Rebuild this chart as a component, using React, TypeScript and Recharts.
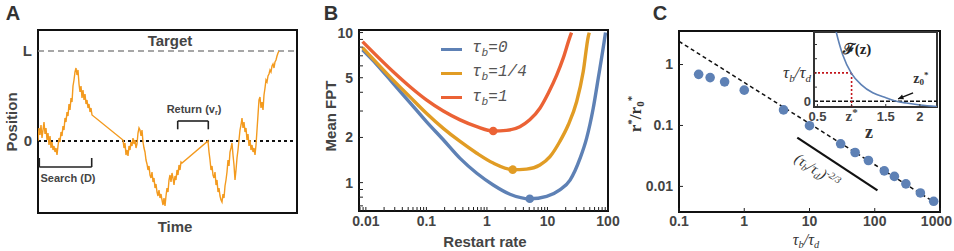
import React from 'react'
import { ComposedChart, Line, Scatter, XAxis, YAxis, ReferenceLine, ReferenceArea, Legend } from 'recharts'

const SANS = '"Liberation Sans", Arial, sans-serif'
const SERIF = '"Liberation Serif", "Times New Roman", serif'
const MONO = '"Liberation Mono", monospace'
const INK = '#444'
const FRAME = '#111'

// ---------- A: one trajectory of search with returns ----------
const TARGET = 90
const walkT = [
  0, 1, 2, 3, 4, 5, 6, 7, 8, 9, 10, 11, 12, 13, 14, 15, 16, 17, 18, 19, 20, 21, 22, 23, 24, 25, 26, 27, 28, 29,
  30, 31, 32, 33, 34, 35, 36, 37, 38, 39, 40, 41, 42, 43, 44, 45, 46, 47, 48, 49, 50, 51, 52, 53, 54,
  85, 86, 87, 88, 89, 90, 91, 92, 93, 94, 95, 96, 97, 98, 99, 100, 101, 102, 103, 104, 105, 106, 107, 108, 109,
  110, 111, 112, 113, 114, 115, 116, 117, 118, 119, 120, 121, 122, 123, 124, 125, 126, 127, 128, 129, 130, 131,
  132, 133, 134, 135, 136, 137, 138, 139, 140, 141, 142, 143, 144,
  170, 171, 172, 173, 174, 175, 176, 177, 178, 179, 180, 181, 182, 183, 184, 185, 186, 187, 188, 189, 190, 191,
  192, 193, 194, 195, 196, 197, 198, 199, 200, 201, 202, 203, 204, 205, 206, 207, 208, 209, 210, 211, 212, 213,
  214, 215, 216, 217, 218, 219, 220, 221, 222, 223, 224, 225, 226, 227, 228, 229, 230, 231, 232, 233, 234, 235,
  236, 237, 238, 239, 240, 241,
]
const walkX = [
  0, 13, 6, 16, 3, 11, 19, 7, 13, 1, 8, -4, 5, -7, -1, -9, -5, -11, -7, -14, -5, 3, -1, 9, 5, 15, 11, 23, 19, 29,
  25, 37, 31, 43, 39, 55, 61, 69, 73, 66, 71, 57, 49, 55, 43, 51, 41, 47, 37, 41, 33, 37, 29, 33, 26,
  1, -7, -2, -14, -9, -15, -5, -9, -1, -5, 3, -3, 1, -7, -3, 8, 13, 11, 5, 11, -1, -7, -11, -19, -23,
  -29, -25, -34, -37, -31, -41, -37, -47, -43, -51, -55, -49, -57, -53, -59, -64, -57, -65, -55, -47, -51, -39,
  -34, -41, -32, -37, -44, -35, -39, -29, -34, -24, -29, -21, -22,
  0, -11, -19, -29, -25, -34, -37, -31, -44, -39, -51, -47, -55, -59, -61, -53, -57, -45, -39, -31, -19, -25,
  -11, -7, -2, -14, -24, -39, -29, -17, -9, 1, 11, 16, 23, 13, 19, 9, 13, 1, 7, -5, 1, -9,
  -4, -11, -7, -14, -4, 11, 26, 41, 44, 33, 39, 31, 46, 53, 61, 59, 65, 67, 71, 69, 75, 77,
  73, 79, 81, 85, 88, 90,
]
const walk = walkT.map((t, i) => ({ x: t, y: walkX[i] }))
const posTicks = [0, TARGET]
const A_T = [0, 259]
const A_X = [-72, 111]

// brackets drawn under / above the trajectory (time span, level, tip level)
const searchBracket = { t0: 1.3, t1: 53.7, y: -26, tip: -17 }
const returnBracket = { t0: 139.7, t1: 170.3, y: 20, tip: 11.7 }

// ---------- B: mean FPT vs restart rate ----------
const SERIES_B = [
  { name: 'τ_b=0', color: '#5E81B5' },
  { name: 'τ_b=1/4', color: '#E19C24' },
  { name: 'τ_b=1', color: '#EB6235' },
]
const rate0 = [0.0088, 0.015, 0.028, 0.053, 0.1, 0.19, 0.36, 0.68, 1.27, 2.4, 5.1, 9.7, 16, 23.6, 28.5, 34.5, 44.4, 57, 69, 89, 91]
const fpt0 = [7.67, 6.15, 4.6, 3.43, 2.55, 1.93, 1.45, 1.155, 0.965, 0.837, 0.78, 0.81, 0.894, 1.04, 1.2, 1.45, 1.98, 3.13, 4.96, 9.4, 10]
const rateQ = [0.0088, 0.028, 0.053, 0.1, 0.19, 0.36, 0.68, 1.27, 2.66, 4.5, 7.5, 11, 16, 22, 30.4, 39, 47.2, 49]
const fptQ = [7.94, 4.84, 3.74, 2.9, 2.3, 1.88, 1.57, 1.35, 1.22, 1.23, 1.31, 1.49, 1.88, 2.42, 3.47, 5.5, 9.4, 10]
const rate1 = [0.0088, 0.028, 0.053, 0.1, 0.19, 0.36, 0.68, 1.27, 2.1, 3.5, 5.1, 7.5, 10.3, 14.2, 18.2, 23.6, 25]
const fpt1 = [8.7, 5.5, 4.37, 3.56, 3.0, 2.62, 2.36, 2.21, 2.23, 2.36, 2.62, 3.13, 3.94, 5.2, 6.75, 9.4, 10]
const optRate = [5.1, 2.66, 1.27]
const optFpt = [0.78, 1.22, 2.21]
const rateMajor = [0.01, 0.1, 1, 10, 100]
const fptMajor = [1, 2, 5, 10]
const fptMinor = [0.7, 0.8, 0.9, 3, 4, 6, 7, 8, 9]
const B_RATE = [0.0077, 100]
const B_FPT = [0.647, 10.4]

const curvesB = [
  rate0.map((x, i) => ({ x, y: fpt0[i] })),
  rateQ.map((x, i) => ({ x, y: fptQ[i] })),
  rate1.map((x, i) => ({ x, y: fpt1[i] })),
]
const rateTicks = [0.008, 0.009, ...rateMajor.flatMap((d) => (d === 100 ? [d] : [1, 2, 3, 4, 5, 6, 7, 8, 9].map((k) => d * k)))]

// ---------- C: optimal rate vs tau_b / tau_d ----------
const ratio = [0.2, 0.3, 0.5, 1, 4, 10, 30, 50, 80, 140, 200, 300, 500, 800]
const rStar = [0.69, 0.61, 0.52, 0.38, 0.18, 0.099, 0.05, 0.036, 0.0266, 0.018, 0.0146, 0.011, 0.0078, 0.0057]
const theoryX = [0.1, 1000]
const theoryY = [2.4, 0.0048]
const guideX = [6.5, 110]
const guideY = [0.063, 0.0086]
const ratioTicks = [0.1, 1, 10, 100, 1000]
const rTicks = [0.01, 0.1, 1]
const C_X = [0.1, 1000]
const C_Y = [0.0038, 3.55]

// inset: F(z)
const zVals = [0.74, 0.775, 0.87, 1.0, 1.14, 1.31, 1.51, 1.63, 1.8, 2.0, 2.25]
const fVals = [2.8, 2.44, 1.64, 0.975, 0.59, 0.3, 0.12, 0.02, -0.06, -0.13, -0.18]
const Z_STAR = 1
const LEVEL = 1
const zTicks = [0.5, 1, 1.5, 2]
const fTicks = [0, 0.5, 1, 1.5, 2]
const IN_Z = [0.45, 2.25]
const IN_F = [-0.2, 2.44]

const pts = (xs: number[], ys: number[]) => xs.map((x, i) => ({ x, y: ys[i] }))

const tickFont = { fill: INK, fontSize: 14, fontWeight: 'bold', fontFamily: SANS }

function Frame({ xs, ys, color = FRAME }: any) {
  return (
    <ReferenceArea x1={xs[0]} x2={xs[1]} y1={ys[0]} y2={ys[1]} ifOverflow="visible"
      fill="none" fillOpacity={0} stroke={color} strokeWidth={2} />
  )
}

function Txt({ x, y, children, size = 15, weight = 'bold', family = SANS, color = INK, rotate = 0, italic = false }: any) {
  return (
    <div
      style={{
        position: 'absolute', left: x, top: y, transform: `translate(-50%, -50%) rotate(${rotate}deg)`,
        fontSize: size, fontWeight: weight, fontFamily: family, color, fontStyle: italic ? 'italic' : 'normal',
        whiteSpace: 'nowrap', lineHeight: 1,
      }}
    >
      {children}
    </div>
  )
}
const Sub = ({ children }: any) => <span style={{ fontSize: '0.65em', verticalAlign: '-0.3em' }}>{children}</span>
const Sup = ({ children }: any) => <span style={{ fontSize: '0.65em', verticalAlign: '0.55em' }}>{children}</span>

function Arrow(p: any) {
  const { x1, y1, x2, y2 } = p || {}
  if (![x1, y1, x2, y2].every((v) => typeof v === 'number')) return <g />
  const a = Math.atan2(y2 - y1, x2 - x1)
  const h = 6
  const head = [
    [x2, y2],
    [x2 - h * Math.cos(a - 0.45), y2 - h * Math.sin(a - 0.45)],
    [x2 - h * Math.cos(a + 0.45), y2 - h * Math.sin(a + 0.45)],
  ]
  return (
    <g>
      <line x1={x1} y1={y1} x2={x2} y2={y2} stroke="#111" strokeWidth={1.4} />
      <polygon points={head.map((q) => q.join(',')).join(' ')} fill="#111" />
    </g>
  )
}

function LegendB({ payload }: any) {
  const order = SERIES_B.map((s) => s.name)
  const items = (payload || [])
    .filter((e: any) => e && order.includes(String(e.value)))
    .sort((a: any, b: any) => order.indexOf(a.value) - order.indexOf(b.value))
  return (
    <div>
      {items.map((e: any) => {
        const [head, tail = ''] = String(e.value).split('_')
        return (
          <div key={e.value} style={{ display: 'flex', alignItems: 'center', height: 24.2 }}>
            <div style={{ width: 21, height: 3, background: e.color, marginRight: 10 }} />
            <span style={{ fontFamily: MONO, fontStyle: 'italic', fontSize: 16, color: '#555' }}>
              {head}
              <span style={{ fontSize: '0.7em', verticalAlign: '-0.35em' }}>{tail.slice(0, 1)}</span>
              {tail.slice(1)}
            </span>
          </div>
        )
      })}
    </div>
  )
}

// x ticks of C: the last label is pulled inside the picture
function RatioTick({ x, y, payload }: any) {
  const last = payload.value === ratioTicks[ratioTicks.length - 1]
  return (
    <text x={last ? x + 12 : x} y={y} dy="0.71em" textAnchor={last ? 'end' : 'middle'} {...tickFont}>
      {String(payload.value)}
    </text>
  )
}

function PanelA() {
  const seg = (x0: number, y0: number, x1: number, y1: number) => [{ x: x0, y: y0 }, { x: x1, y: y1 }]
  const br = (b: typeof searchBracket) => [
    seg(b.t0, b.y, b.t1, b.y),
    seg(b.t0, b.y, b.t0, b.tip),
    seg(b.t1, b.y, b.t1, b.tip),
  ]
  return (
    <div style={{ position: 'absolute', left: 0, top: 0 }}>
      <ComposedChart width={320} height={251} margin={{ top: 30, right: 23, bottom: 38, left: 0 }}>
        <XAxis type="number" dataKey="x" domain={A_T} hide allowDataOverflow />
        <YAxis
          type="number" domain={A_X} ticks={posTicks} width={38} allowDataOverflow
          tickFormatter={(v: number) => (v === TARGET ? 'L' : '0')}
          axisLine={false} tickLine={false} tickSize={0} tickMargin={6}
          tick={{ ...tickFont, fontSize: 15 }}
        />
        <ReferenceLine y={TARGET} stroke="#8a8a8a" strokeWidth={1.6} strokeDasharray="6 4" />
        <ReferenceLine y={0} stroke="#111" strokeWidth={2} strokeDasharray="3 3" />
        {[...br(searchBracket), ...br(returnBracket)].map((s, i) => (
          <ReferenceLine key={i} segment={s} stroke="#222" strokeWidth={1.6} />
        ))}
        <Line data={walk} dataKey="y" type="linear" stroke="#F39A1E" strokeWidth={1.4} dot={false} isAnimationActive={false} />
        {Frame({ xs: A_T, ys: A_X })}
      </ComposedChart>
    </div>
  )
}

function PanelB() {
  return (
    <div style={{ position: 'absolute', left: 310, top: 0 }}>
      <ComposedChart width={320} height={251} margin={{ top: 30, right: 22, bottom: 0, left: 0 }}>
        <XAxis
          type="number" dataKey="x" scale="log" domain={B_RATE} allowDataOverflow height={40}
          ticks={rateTicks} interval={0} axisLine={false}
          tickFormatter={(v: number) => (rateMajor.includes(v) ? String(v) : '')}
          tickSize={-4} tickMargin={9} tickLine={{ stroke: '#222' }} tick={tickFont}
        />
        <YAxis
          type="number" dataKey="y" scale="log" domain={B_FPT} allowDataOverflow width={49}
          ticks={[...fptMajor, ...fptMinor].sort((a, b) => a - b)} interval={0} axisLine={false}
          tickFormatter={(v: number) => (fptMajor.includes(v) ? String(v) : '')}
          tickSize={-4} tickMargin={10} tickLine={{ stroke: '#222' }} tick={tickFont}
        />
        {SERIES_B.map((s, i) => (
          <Line key={s.name} name={s.name} data={curvesB[i]} dataKey="y" type="monotone" stroke={s.color}
            strokeWidth={3.4} dot={false} isAnimationActive={false} />
        ))}
        {SERIES_B.map((s, i) => (
          <Scatter key={'o' + i} data={[{ x: optRate[i], y: optFpt[i] }]} dataKey="y" fill={s.color}
            legendType="none" isAnimationActive={false}
            shape={(p: any) => <circle cx={p.cx} cy={p.cy} r={4.3} fill={s.color} />} />
        ))}
        {Frame({ xs: B_RATE, ys: B_FPT })}
        <Legend
          layout="vertical" align="center" verticalAlign="middle"
          wrapperStyle={{ position: 'absolute', left: 131, top: 37, width: 'auto', height: 'auto' }}
          content={<LegendB />}
        />
      </ComposedChart>
    </div>
  )
}

function InsetXTick({ x, y, payload }: any) {
  if (payload.value === Z_STAR) {
    return (
      <text x={x} y={y + 10} textAnchor="middle" fontFamily={SERIF} fontWeight="bold" fontSize={15} fill={INK}>
        z<tspan dy={-5} fontSize={11}>*</tspan>
      </text>
    )
  }
  return (
    <text x={x} y={y + 10} textAnchor="middle" fontFamily={SANS} fontWeight="bold" fontSize={13} fill={INK}>
      {payload.value}
    </text>
  )
}

function InsetYTick({ x, y, payload }: any) {
  if (payload.value === LEVEL) {
    return (
      <text x={x} y={y + 5} textAnchor="end" fontFamily={SERIF} fontStyle="italic" fontSize={17} fill="#333">
        τ<tspan dy={4} fontSize={11}>b</tspan><tspan dy={-4}>/τ</tspan><tspan dy={4} fontSize={11}>d</tspan>
      </text>
    )
  }
  if (payload.value !== 0) return <g />
  return (
    <text x={x} y={y + 5} textAnchor="end" fontFamily={SANS} fontWeight="bold" fontSize={13} fill={INK}>0</text>
  )
}

function Inset() {
  return (
    <div style={{ position: 'absolute', left: 770, top: 25 }}>
      <ComposedChart width={170} height={100} margin={{ top: 7, right: 3, bottom: 0, left: 0 }}>
        <XAxis
          type="number" dataKey="x" domain={IN_Z} allowDataOverflow height={18} ticks={zTicks} interval={0}
          axisLine={false} tickSize={-3} tickMargin={7} tickLine={{ stroke: '#333' }} tick={<InsetXTick />}
        />
        <YAxis
          type="number" dataKey="y" domain={IN_F} allowDataOverflow width={44} ticks={fTicks} interval={0}
          axisLine={false} tickSize={-3} tickMargin={6} tickLine={{ stroke: '#333' }} tick={<InsetYTick />}
        />
        <ReferenceLine y={0} stroke="#111" strokeWidth={1.4} strokeDasharray="4 2" />
        <ReferenceLine segment={[{ x: IN_Z[0], y: LEVEL }, { x: Z_STAR, y: LEVEL }]} stroke="#c4161c" strokeWidth={1.6} strokeDasharray="2 2" />
        <ReferenceLine segment={[{ x: Z_STAR, y: LEVEL }, { x: Z_STAR, y: IN_F[0] }]} stroke="#c4161c" strokeWidth={1.6} strokeDasharray="2 2" />
        <Line data={pts(zVals, fVals)} dataKey="y" type="monotone" stroke="#5E81B5" strokeWidth={1.6} dot={false} isAnimationActive={false} />
        <ReferenceLine segment={[{ x: 1.9, y: 0.3 }, { x: 1.68, y: 0.085 }]} shape={Arrow} />
        {Frame({ xs: IN_Z, ys: IN_F, color: '#333' })}
      </ComposedChart>
    </div>
  )
}

function PanelC() {
  return (
    <div style={{ position: 'absolute', left: 630, top: 0 }}>
      <ComposedChart width={324} height={251} margin={{ top: 31, right: 14, bottom: 0, left: 0 }}>
        <XAxis
          type="number" dataKey="x" scale="log" domain={C_X} allowDataOverflow height={39}
          ticks={ratioTicks} interval={0} axisLine={false}
          tickSize={-4} tickMargin={8} tickLine={{ stroke: '#222' }} tick={<RatioTick />}
        />
        <YAxis
          type="number" dataKey="y" scale="log" domain={C_Y} allowDataOverflow width={49}
          ticks={rTicks} interval={0} axisLine={false} tickFormatter={(v: number) => String(v)}
          tickSize={-4} tickMargin={10} tickLine={{ stroke: '#222' }} tick={tickFont}
        />
        <Line data={pts(theoryX, theoryY)} dataKey="y" type="linear" stroke="#111" strokeWidth={1.5} strokeDasharray="4 3" dot={false} isAnimationActive={false} />
        <Line data={pts(guideX, guideY)} dataKey="y" type="linear" stroke="#111" strokeWidth={2.2} dot={false} isAnimationActive={false} />
        <Scatter data={pts(ratio, rStar)} dataKey="y" fill="#5E81B5" isAnimationActive={false}
          shape={(p: any) => <circle cx={p.cx} cy={p.cy} r={4.8} fill="#5E81B5" />} />
        {Frame({ xs: C_X, ys: C_Y })}
      </ComposedChart>
    </div>
  )
}

export default function App() {
  return (
    <div style={{ position: 'absolute', left: 0, top: 0, width: 954, height: 251, background: '#fff', overflow: 'hidden' }}>
      <PanelA />
      <PanelB />
      <PanelC />
      <Inset />

      <Txt x={13} y={13} size={20} color="#333">A</Txt>
      <Txt x={331} y={13} size={20} color="#333">B</Txt>
      <Txt x={660} y={13} size={20} color="#333">C</Txt>

      <Txt x={170} y={40}>Target</Txt>
      <Txt x={11} y={122} rotate={-90}>Position</Txt>
      <Txt x={175} y={226}>Time</Txt>
      <Txt x={68} y={178} size={11}>Search (D)</Txt>
      <Txt x={194} y={111} size={11}>Return (v<Sub>r</Sub>)</Txt>

      <Txt x={330} y={116} rotate={-90}>Mean FPT</Txt>
      <Txt x={485} y={241}>Restart rate</Txt>

      <Txt x={636} y={114} rotate={-90} family={SERIF} size={17} color="#333">
        r<Sup>*</Sup>/r<Sub>0</Sub><Sup>*</Sup>
      </Txt>
      <Txt x={806} y={241} family={SERIF} italic weight="normal" size={16} color="#333">
        τ<Sub>b</Sub>/τ<Sub>d</Sub>
      </Txt>
      <Txt x={817} y={171} rotate={33} family={SERIF} italic weight="normal" size={15} color="#333">
        (τ<Sub>b</Sub>/τ<Sub>d</Sub>)<Sup>-2/3</Sup>
      </Txt>
      <Txt x={857} y={49} family={SERIF} size={15} color="#222">ℱ(z)</Txt>
      <Txt x={921} y={79} family={SERIF} size={14} color="#333">
        z<Sub>0</Sub><Sup>*</Sup>
      </Txt>
      <Txt x={869} y={132} family={SERIF} size={18} color="#333">z</Txt>
    </div>
  )
}
